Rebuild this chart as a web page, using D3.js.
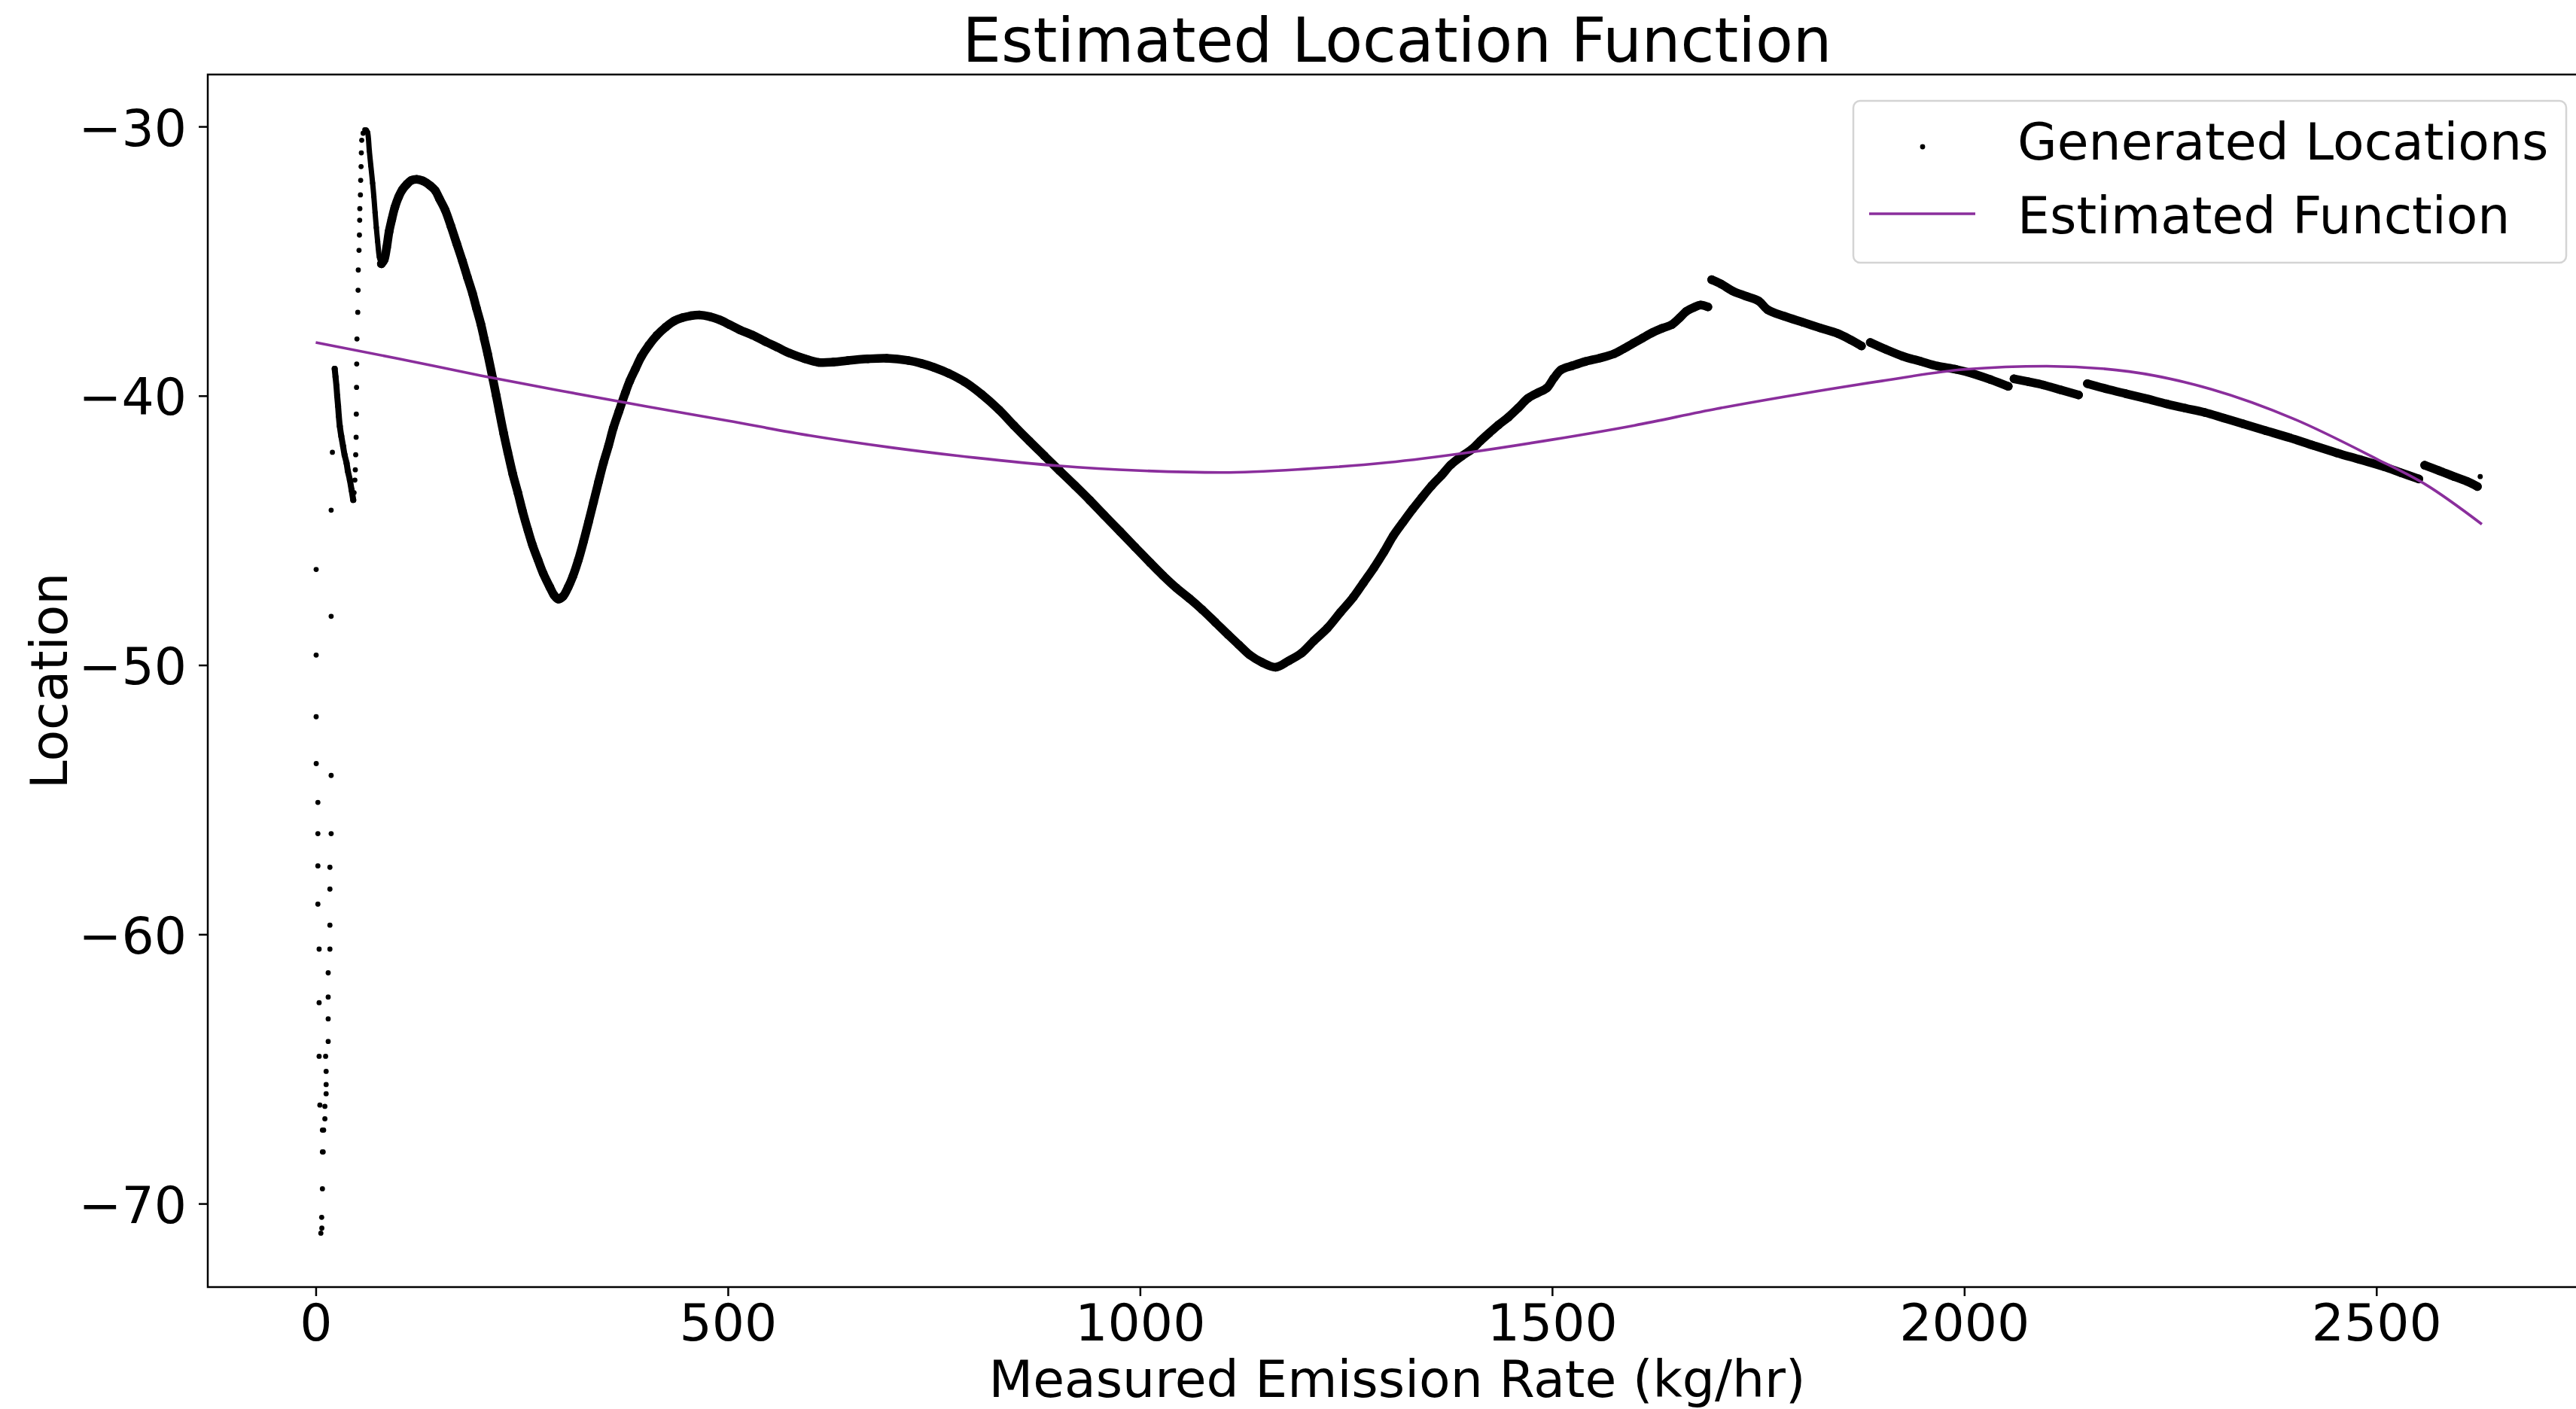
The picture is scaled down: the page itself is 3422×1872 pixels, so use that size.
<!DOCTYPE html>
<html>
<head>
<meta charset="utf-8">
<title>Estimated Location Function</title>
<script src="https://cdn.jsdelivr.net/npm/d3@7"></script>
<style>
  html, body { margin: 0; padding: 0; background: #ffffff; }
  svg { display: block; }
  text { font-family: "DejaVu Sans", sans-serif; fill: #000; }
</style>
</head>
<body>
<svg id="chart" width="3422" height="1872"></svg>
<script>
// ---- data -------------------------------------------------------------
// Isolated generated locations at very low emission rates: [rate, location]
const lowRateColumnA = [
  [0.5,-46.45],[0.5,-49.63],[0.5,-51.92],[0.6,-53.66],[2.6,-55.1],[2.6,-56.26],
  [2.6,-57.46],[2.6,-58.88],[4.1,-60.55],[4.1,-62.54],[4.1,-64.53],[5.0,-66.34],
  [8.1,-67.27],[8.1,-68.08],[8.1,-69.45],[7.2,-70.51],[7.4,-70.91],[6.2,-71.1]
];
const lowRateColumnB = [
  [18.7,-44.25],[18.7,-48.19],[18.7,-54.1],[18.7,-56.26],[17.2,-57.51],[17.2,-58.32],
  [17.2,-59.66],[17.2,-60.55],[15.1,-61.43],[15.1,-62.33],[15.1,-63.14],[15.1,-63.98],
  [12.0,-64.53],[12.6,-65.09],[12.6,-65.58],[12.6,-65.92],[11.1,-66.39],[11.1,-66.85],
  [9.6,-67.27],[9.0,-68.08],[20.2,-42.1]
];
const spikeRise = [
  [46.5,-43.6],[47.5,-43.13],[48,-42.75],[48.5,-42.19],[49,-41.54],[49.2,-40.68],
  [49.5,-39.69],[49.7,-38.82],[50,-37.89],[51,-36.9],[51.4,-36.08],[51.6,-35.33],
  [52.5,-34.6],[53,-34.03],[53.3,-33.48],[53.5,-33.05],[54.2,-32.54],[54.5,-32.0],
  [55,-31.49],[55.3,-30.98],[55.8,-30.51],[57.5,-30.25],[59.5,-30.12]
];
// Densely packed runs of generated locations: [rate, location]
const clusterRun = [
  [23,-39.0],[24,-39.3],[25.1,-39.63],[26,-40.0],[27.1,-40.38],[28,-40.75],[29.2,-41.13],
  [31,-41.5],[33.2,-41.88],[35,-42.2],[37.4,-42.5],[39,-42.8],[41.4,-43.13],[43.5,-43.5],[45.5,-43.87]
];
const spikeFall = [
  [61.4,-30.14],[62.9,-30.22],[65,-30.9],[66.8,-31.45],[69,-32.1],[70.5,-32.6],
  [72,-33.2],[73.5,-33.75],[75.1,-34.27],[77.2,-34.85],[79.6,-35.1]
];
const mainRun = [
  [79.6,-35.1],[83,-34.95],[86,-34.5],[89,-33.9],[92.3,-33.45],[96,-33.0],[100.5,-32.62],
  [105,-32.35],[110.7,-32.14],[116,-32.0],[122.5,-31.96],[130,-32.02],[139,-32.2],[145,-32.38],
  [150,-32.68],[157,-33.1],[164,-33.7],[171,-34.35],[178,-35.0],[184,-35.6],[190.2,-36.2],
  [195,-36.75],[200.4,-37.35],[204.5,-37.9],[208.6,-38.45],[214.7,-39.35],[219,-40.0],
  [222.8,-40.6],[228,-41.4],[233,-42.1],[239,-42.9],[245.2,-43.6],[251,-44.3],[257.5,-45.0],
  [263,-45.55],[269.7,-46.1],[276,-46.6],[283.9,-47.1],[289,-47.4],[294.2,-47.55],[300,-47.45],
  [306.4,-47.1],[312,-46.7],[318.6,-46.1],[325,-45.4],[330.9,-44.7],[337,-43.95],[343.1,-43.2],
  [349,-42.5],[355.3,-41.85],[361,-41.2],[367.6,-40.6],[375.7,-39.88],[381,-39.45],[387.9,-39.0],
  [395,-38.55],[404.2,-38.12],[414,-37.75],[424.6,-37.45],[435,-37.22],[445,-37.1],[455,-37.03],
  [465.4,-37.0],[478,-37.06],[489.9,-37.18],[502,-37.36],[514.4,-37.55],[530,-37.75],[545,-37.98],
  [560,-38.2],[575,-38.42],[593,-38.62],[610,-38.76],[628,-38.75],[645.5,-38.69],[670,-38.63],
  [692.7,-38.61],[718.9,-38.69],[735,-38.8],[750.3,-38.95],[768,-39.17],[787,-39.48],[808,-39.95],
  [828.9,-40.52],[847,-41.1],[865.7,-41.68],[884,-42.23],[902.4,-42.78],[921,-43.33],[939.1,-43.88],
  [957,-44.45],[975.8,-45.04],[994,-45.62],[1012.4,-46.2],[1028,-46.68],[1043.9,-47.13],[1060,-47.53],
  [1075.3,-47.94],[1091,-48.4],[1106.8,-48.87],[1120,-49.25],[1133,-49.62],[1148,-49.9],[1164.5,-50.08],
  [1180,-49.85],[1195.9,-49.56],[1211,-49.1],[1227.4,-48.63],[1243,-48.05],[1258.8,-47.48],[1271,-46.95],
  [1284,-46.38],[1296,-45.8],[1307.3,-45.2],[1319,-44.7],[1330.6,-44.22],[1342,-43.78],[1353.9,-43.34],
  [1366,-42.95],[1377.2,-42.56],[1390,-42.25],[1403.4,-41.97],[1413,-41.68],[1423.8,-41.38],[1435,-41.08],
  [1447.1,-40.79],[1459,-40.45],[1470.4,-40.1],[1482,-39.9],[1493.7,-39.71],[1502,-39.35],[1511.2,-39.03],
  [1525,-38.88],[1540.3,-38.73],[1558,-38.6],[1575.3,-38.44],[1587,-38.25],[1598.6,-38.05],[1610,-37.85],
  [1621.9,-37.65],[1633,-37.5],[1645.2,-37.36],[1655,-37.1],[1662.6,-36.87],[1672,-36.72],[1680.1,-36.63],[1689,-36.7]
];
const declineRunA = [
  [1693.6,-35.69],[1705,-35.85],[1718.5,-36.1],[1735,-36.3],[1750.6,-36.48],[1761.3,-36.8],
  [1782,-37.05],[1804.1,-37.27],[1825,-37.48],[1846.7,-37.69],[1862,-37.92],[1875.3,-38.15]
];
const declineRunB = [
  [1886,-38.02],[1905,-38.28],[1925.2,-38.53],[1947,-38.72],[1967.9,-38.9],[1990,-39.02],
  [2010.6,-39.18],[2032,-39.4],[2053.4,-39.65]
];
const declineRunC = [
  [2060.4,-39.37],[2078,-39.48],[2096,-39.6],[2117,-39.78],[2138.7,-39.97]
];
const declineRunD = [
  [2149.4,-39.55],[2172,-39.74],[2195.7,-39.92],[2220,-40.1],[2245.5,-40.3],[2268,-40.46],
  [2291.8,-40.62],[2315,-40.83],[2338,-41.04],[2366,-41.3],[2395,-41.56],[2423,-41.84],
  [2451.9,-42.12],[2480,-42.37],[2508.9,-42.63],[2530,-42.86],[2551.5,-43.09]
];
const declineRunE = [
  [2558.6,-42.58],[2576,-42.78],[2594.2,-43.0],[2610,-43.18],[2622.6,-43.37]
];
const tailPoints = [[2626,-43.0]];

// Estimated location function
const fitRate = [0,100,200,300,400,500,600,700,800,900,1000,1100,1200,1300,1400,
                 1500,1600,1700,1800,1900,2000,2100,2200,2300,2400,2500,2560,2628];
const fitLocation = [-38.02,-38.62,-39.25,-39.83,-40.39,-40.93,-41.48,-41.93,-42.3,-42.6,
                     -42.78,-42.85,-42.72,-42.48,-42.1,-41.63,-41.1,-40.48,-39.94,-39.45,
                     -39.02,-38.9,-39.1,-39.76,-40.86,-42.34,-43.3,-44.77];

const xTicks = [0, 500, 1000, 1500, 2000, 2500];
const yTicks = [-70, -60, -50, -40, -30];
const legendLabels = ["Generated Locations", "Estimated Function"];

// ---- layout -----------------------------------------------------------
const plot = { left: 276, top: 99, right: 3436, bottom: 1710 };
const fitColor = "#8a2e9c";
const baseFont = 68;

const svg = d3.select("#chart");

const x = d3.scaleLinear().domain([-131, 2755]).range([plot.left, plot.right]);
const y = d3.scaleLinear().domain([-73.1, -28.07]).range([plot.bottom, plot.top]);

// ---- generated locations ---------------------------------------------
const dataLayer = svg.append("g");

function drawRun(run, width) {
  const line = d3.line().x(d => x(d[0])).y(d => y(d[1])).curve(d3.curveCatmullRom);
  dataLayer.append("path")
    .attr("d", line(run))
    .attr("fill", "none")
    .attr("stroke", "#000")
    .attr("stroke-width", width)
    .attr("stroke-linecap", "round")
    .attr("stroke-linejoin", "round");
  dataLayer.append("g").selectAll("circle").data(run).join("circle")
    .attr("cx", d => x(d[0])).attr("cy", d => y(d[1]))
    .attr("r", width / 2).attr("fill", "#000");
}

function drawDots(points) {
  dataLayer.append("g").selectAll("circle").data(points).join("circle")
    .attr("cx", d => x(d[0])).attr("cy", d => y(d[1]))
    .attr("r", 3.4).attr("fill", "#000");
}

drawDots(lowRateColumnA);
drawDots(lowRateColumnB);
drawDots(spikeRise);
drawDots(tailPoints);
drawRun(clusterRun, 8);
drawRun(spikeFall, 7);
drawRun(mainRun, 11.5);
[declineRunA, declineRunB, declineRunC, declineRunD, declineRunE].forEach(r => drawRun(r, 11.5));

// ---- estimated function ----------------------------------------------
const fitLine = d3.line()
  .x((d, i) => x(fitRate[i]))
  .y(d => y(d))
  .curve(d3.curveMonotoneX);
svg.append("path")
  .attr("d", fitLine(fitLocation))
  .attr("fill", "none")
  .attr("stroke", fitColor)
  .attr("stroke-width", 3.6);

// ---- axes ---------------------------------------------------------------
const xAxis = d3.axisBottom(x).tickValues(xTicks).tickSize(12).tickPadding(8)
  .tickFormat(d3.format("d"));
const gx = svg.append("g").attr("transform", `translate(0,${plot.bottom})`).call(xAxis);
gx.select(".domain").remove();
gx.selectAll("line").attr("stroke", "#000").attr("stroke-width", 2.5);
gx.selectAll("text").attr("font-size", baseFont).attr("fill", "#000")
  .attr("dy", null).attr("y", 71);

const yAxis = d3.axisLeft(y).tickValues(yTicks).tickSize(12).tickPadding(15)
  .tickFormat(d3.format("d"));
const gy = svg.append("g").attr("transform", `translate(${plot.left},0)`).call(yAxis);
gy.select(".domain").remove();
gy.selectAll("line").attr("stroke", "#000").attr("stroke-width", 2.5);
gy.selectAll("text").attr("font-size", baseFont).attr("fill", "#000")
  .attr("dy", null).attr("y", 25).attr("x", -28);

// spines
svg.append("rect")
  .attr("x", plot.left).attr("y", plot.top)
  .attr("width", plot.right - plot.left).attr("height", plot.bottom - plot.top)
  .attr("fill", "none").attr("stroke", "#000").attr("stroke-width", 2.5);

// ---- titles -------------------------------------------------------------
const centerX = (plot.left + plot.right) / 2;
svg.append("text")
  .attr("x", centerX).attr("y", 82)
  .attr("text-anchor", "middle").attr("font-size", 81.5)
  .text("Estimated Location Function");

svg.append("text")
  .attr("x", centerX).attr("y", 1856)
  .attr("text-anchor", "middle").attr("font-size", baseFont)
  .text("Measured Emission Rate (kg/hr)");

svg.append("text")
  .attr("transform", `translate(89,${(plot.top + plot.bottom) / 2}) rotate(-90)`)
  .attr("text-anchor", "middle").attr("font-size", baseFont)
  .text("Location");

// ---- legend -------------------------------------------------------------
const legend = svg.append("g");
legend.append("rect")
  .attr("x", 2462).attr("y", 134).attr("width", 947).attr("height", 215)
  .attr("rx", 9).attr("ry", 9)
  .attr("fill", "#fff").attr("fill-opacity", 0.8)
  .attr("stroke", "#d4d4d4").attr("stroke-width", 2.5);
legend.append("circle").attr("cx", 2554).attr("cy", 195).attr("r", 3.4).attr("fill", "#000");
legend.append("line")
  .attr("x1", 2483).attr("x2", 2624).attr("y1", 284).attr("y2", 284)
  .attr("stroke", fitColor).attr("stroke-width", 3.6);
legend.selectAll("text.lbl").data(legendLabels).join("text")
  .attr("class", "lbl")
  .attr("x", 2680).attr("y", (d, i) => 212 + i * 97.5)
  .attr("font-size", baseFont)
  .text(d => d);
</script>
</body>
</html>
